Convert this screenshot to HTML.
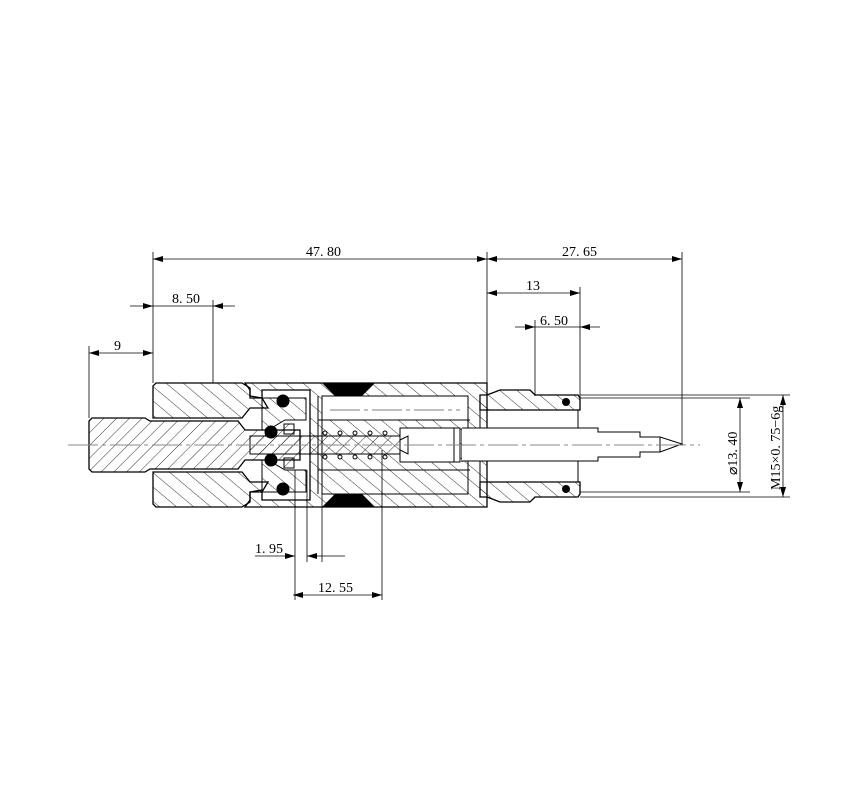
<!DOCTYPE html>
<html><head><meta charset="utf-8"><style>
html,body{margin:0;padding:0;background:#fff;}
svg{display:block;font-family:"Liberation Serif","DejaVu Serif",serif;}
</style></head><body>
<svg width="852" height="800" viewBox="0 0 852 800" xmlns="http://www.w3.org/2000/svg">
<defs>
<pattern id="h" patternUnits="userSpaceOnUse" width="9" height="9" patternTransform="rotate(45)">
<line x1="0" y1="0" x2="0" y2="9" stroke="#000" stroke-width="0.8"/></pattern>
<pattern id="h2" patternUnits="userSpaceOnUse" width="11" height="11" patternTransform="rotate(-50)">
<line x1="0" y1="0" x2="0" y2="11" stroke="#000" stroke-width="0.8"/></pattern>
<marker id="a" markerWidth="10" markerHeight="6" refX="10" refY="3" orient="auto-start-reverse" markerUnits="userSpaceOnUse">
<path d="M0,0 L10,3 L0,6 z" fill="#000"/></marker>
</defs>
<g stroke="#000" stroke-width="1" fill="none">
<!-- left fitting -->
<path d="M92,418 H145 L150,421 H238 L245,430 H300 V460 H245 L238,469 H150 L145,472 H92 L89,469 V421 Z" fill="url(#h)" stroke-width="1.3"/>
<!-- left nut -->
<path d="M156,383 H242 L250,388 V398 H262 L268,408 H250 L242,418 H153 V386 Z" fill="url(#h2)" stroke-width="1.3"/>
<path d="M156,507 H242 L250,502 V492 H262 L268,482 H250 L242,472 H153 V504 Z" fill="url(#h2)" stroke-width="1.3"/>
<!-- main body -->
<path d="M245,383 H487 V507 H245 L250,500 V492 L262,490 V500 H310 V390 H262 V398 L250,396 V390 Z" fill="url(#h2)" stroke-width="1.3"/>
<path d="M262,398 H306 V420 H285 L268,430 H262 Z" fill="url(#h2)"/>
<path d="M262,492 H306 V470 H285 L268,460 H262 Z" fill="url(#h2)"/>
<rect x="322" y="396" width="146" height="24" fill="#fff"/>
<rect x="322" y="396" width="146" height="98" />
<line x1="318" y1="420" x2="470" y2="420"/><line x1="318" y1="470" x2="470" y2="470"/>
<line x1="310" y1="396" x2="310" y2="494"/><line x1="318" y1="396" x2="318" y2="494"/>
<line x1="330" y1="410" x2="460" y2="410" stroke="#555" stroke-dasharray="30,4,4,4" stroke-width="0.7"/>
<path d="M310,383 L322,383 L335,396 L362,396 L375,383 Z" fill="#000" stroke="none"/>
<path d="M310,507 L322,507 L335,494 L362,494 L375,507 Z" fill="#000" stroke="none"/>
<!-- inner rod -->
<rect x="250" y="436" width="150" height="18" fill="url(#h)"/>
<rect x="400" y="428" width="60" height="34" fill="#fff"/>
<path d="M400,440 L408,436 V454 L400,450 Z"/>
<line x1="454" y1="428" x2="454" y2="462"/><line x1="462" y1="428" x2="462" y2="462"/>
<g fill="#fff">
<circle cx="325" cy="433" r="2"/><circle cx="340" cy="433" r="2"/><circle cx="355" cy="433" r="2"/><circle cx="370" cy="433" r="2"/><circle cx="385" cy="433" r="2"/>
<circle cx="325" cy="457" r="2"/><circle cx="340" cy="457" r="2"/><circle cx="355" cy="457" r="2"/><circle cx="370" cy="457" r="2"/><circle cx="385" cy="457" r="2"/>
</g>
<g fill="#000"><circle cx="283" cy="401" r="6"/><circle cx="283" cy="489" r="6"/><circle cx="271" cy="432" r="6"/><circle cx="271" cy="460" r="6"/>
<circle cx="566" cy="402" r="3.5"/><circle cx="566" cy="489" r="3.5"/></g>
<rect x="284" y="424" width="10" height="10" fill="url(#h)"/><rect x="284" y="458" width="10" height="10" fill="url(#h)"/>
<!-- right body -->
<path d="M487,395 L500,390 H530 L535,395 H578 L580,398 V410 H480 V395 Z" fill="url(#h2)" stroke-width="1.3"/>
<path d="M487,497 L500,502 H530 L535,497 H578 L580,494 V482 H480 V497 Z" fill="url(#h2)" stroke-width="1.3"/>
<line x1="480" y1="410" x2="480" y2="482"/><line x1="578" y1="410" x2="578" y2="482"/>
<!-- pin -->
<path d="M462,428 H598 V432 H640 V437 L660,437 L682,444 L660,452 V452 H640 V457 H598 V461 H462" fill="#fff"/>
<line x1="660" y1="437" x2="660" y2="452"/>
<line x1="68" y1="445" x2="700" y2="445" stroke="#888" stroke-dasharray="30,4,4,4"/>
</g>
<g stroke="#000" stroke-width="0.8" fill="none">
<line x1="153" y1="252" x2="153" y2="383"/><line x1="487" y1="252" x2="487" y2="383"/><line x1="682" y1="252" x2="682" y2="444"/>
<line x1="153" y1="259" x2="487" y2="259" marker-start="url(#a)" marker-end="url(#a)"/>
<line x1="487" y1="259" x2="682" y2="259" marker-start="url(#a)" marker-end="url(#a)"/>
<line x1="580" y1="287" x2="580" y2="398"/>
<line x1="487" y1="293" x2="580" y2="293" marker-start="url(#a)" marker-end="url(#a)"/>
<line x1="535" y1="320" x2="535" y2="396"/>
<line x1="515" y1="327" x2="535" y2="327" marker-end="url(#a)"/><line x1="600" y1="327" x2="580" y2="327" marker-end="url(#a)"/><line x1="535" y1="327" x2="580" y2="327"/>
<line x1="213" y1="300" x2="213" y2="383"/>
<line x1="130" y1="306" x2="153" y2="306" marker-end="url(#a)"/><line x1="235" y1="306" x2="213" y2="306" marker-end="url(#a)"/><line x1="153" y1="306" x2="213" y2="306"/>
<line x1="89" y1="346" x2="89" y2="418"/>
<line x1="89" y1="353" x2="153" y2="353" marker-start="url(#a)" marker-end="url(#a)"/>
<line x1="295" y1="470" x2="295" y2="600"/><line x1="307" y1="470" x2="307" y2="562"/><line x1="322" y1="494" x2="322" y2="562"/><line x1="382" y1="450" x2="382" y2="600"/>
<line x1="255" y1="556" x2="295" y2="556" marker-end="url(#a)"/><line x1="345" y1="556" x2="307" y2="556" marker-end="url(#a)"/>
<line x1="293" y1="595" x2="382" y2="595" marker-start="url(#a)" marker-end="url(#a)"/>
<line x1="580" y1="398" x2="750" y2="398"/><line x1="580" y1="492" x2="750" y2="492"/>
<line x1="740" y1="398" x2="740" y2="492" marker-start="url(#a)" marker-end="url(#a)"/>
<line x1="580" y1="395" x2="790" y2="395"/><line x1="580" y1="497" x2="790" y2="497"/>
<line x1="783" y1="395" x2="783" y2="497" marker-start="url(#a)" marker-end="url(#a)"/>
</g>
<g font-size="14" fill="#000">
<text x="306" y="256">47. 80</text>
<text x="562" y="256">27. 65</text>
<text x="526" y="290">13</text>
<text x="540" y="325">6. 50</text>
<text x="172" y="303">8. 50</text>
<text x="114" y="350">9</text>
<text x="255" y="553">1. 95</text>
<text x="318" y="592">12. 55</text>
<text transform="translate(737,475) rotate(-90)">⌀13. 40</text>
<text transform="translate(780,490) rotate(-90)">M15×0. 75−6g</text>
</g>
</svg>
</body></html>
